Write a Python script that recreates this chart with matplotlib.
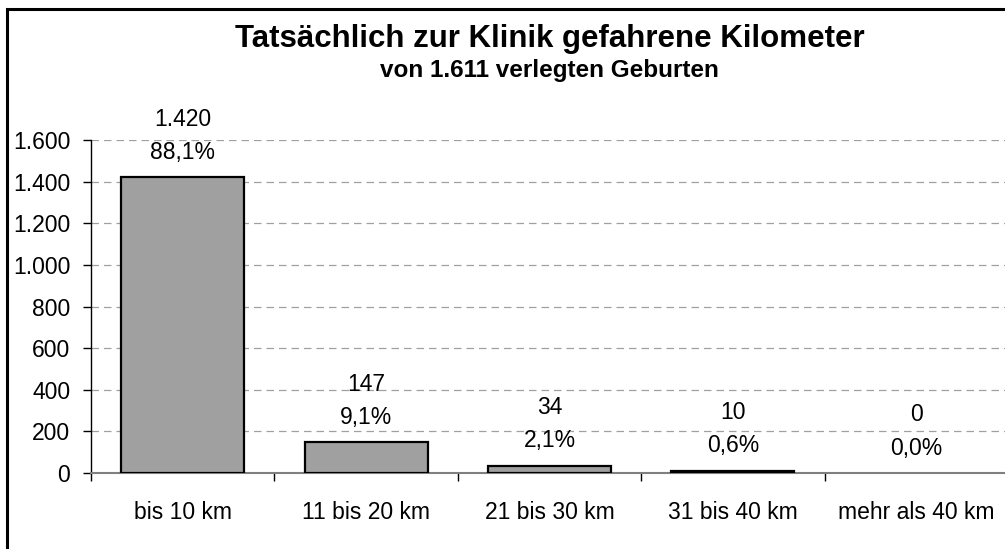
import matplotlib
matplotlib.use('Agg')
import matplotlib.pyplot as plt
from matplotlib.patches import Rectangle

# data
categories = ['bis 10 km', '11 bis 20 km', '21 bis 30 km', '31 bis 40 km', 'mehr als 40 km']
counts = [1420, 147, 34, 10, 0]
count_labels = ['1.420', '147', '34', '10', '0']
pct_labels = ['88,1%', '9,1%', '2,1%', '0,6%', '0,0%']
yticks = [0, 200, 400, 600, 800, 1000, 1200, 1400, 1600]
ytick_labels = ['0', '200', '400', '600', '800', '1.000', '1.200', '1.400', '1.600']

plt.rcParams['font.family'] = ['Liberation Sans', 'DejaVu Sans']

W, H = 1005, 549
fig = plt.figure(figsize=(W / 100, H / 100), dpi=100)

# outer frame (only top and left visible in original)
fig.patches.append(Rectangle((7 / W, -0.05), 1.1, 1 - 9 / H + 0.05, transform=fig.transFigure,
                             fill=False, edgecolor='black', linewidth=2.2, zorder=0))

ax = fig.add_axes([91 / W, (H - 473) / H, (1008 - 91) / W, (473 - 140) / H])
x = range(len(categories))
ax.bar(x, counts, width=0.67, color='#a0a0a0', edgecolor='black',
       linewidth=[1.6 if v > 0 else 0 for v in counts], zorder=3)

fs = 16.5
ax.set_xlim(-0.5, len(categories) - 0.5)
ax.set_ylim(0, 1600)
ax.set_yticks(yticks)
ax.set_yticklabels(ytick_labels, fontsize=fs)
ax.set_xticks(list(x))
ax.set_xticklabels(categories, fontsize=fs)
ax.tick_params(axis='x', length=0, pad=20)
ax.tick_params(axis='y', length=6, width=1, direction='out', pad=9)
# category separators
ax.set_xticks([i - 0.5 for i in range(len(categories) + 1)], minor=True)
ax.tick_params(axis='x', which='minor', length=6, width=1, color='black', direction='out')

ax.yaxis.grid(True, linestyle=(0, (6, 4)), color='#a0a0a0', linewidth=0.9, zorder=0)
for s in ['top', 'right']:
    ax.spines[s].set_visible(False)
ax.spines['bottom'].set_color('#808080')
ax.spines['bottom'].set_linewidth(1.5)
ax.spines['left'].set_linewidth(1)

for i, v in enumerate(counts):
    ax.annotate(pct_labels[i], (i, v), xytext=(0, 18), textcoords='offset points',
                ha='center', va='center', fontsize=fs)
    ax.annotate(count_labels[i], (i, v), xytext=(0, 42), textcoords='offset points',
                ha='center', va='center', fontsize=fs)

cx = (91 + 1008) / 2 / W
fig.text(cx, 1 - 39 / H, 'Tatsächlich zur Klinik gefahrene Kilometer', ha='center', va='center',
         fontsize=22.5, fontweight='bold')
fig.text(cx, 1 - 71 / H, 'von 1.611 verlegten Geburten', ha='center', va='center',
         fontsize=17.5, fontweight='bold')

fig.savefig('out.png', dpi=100)
